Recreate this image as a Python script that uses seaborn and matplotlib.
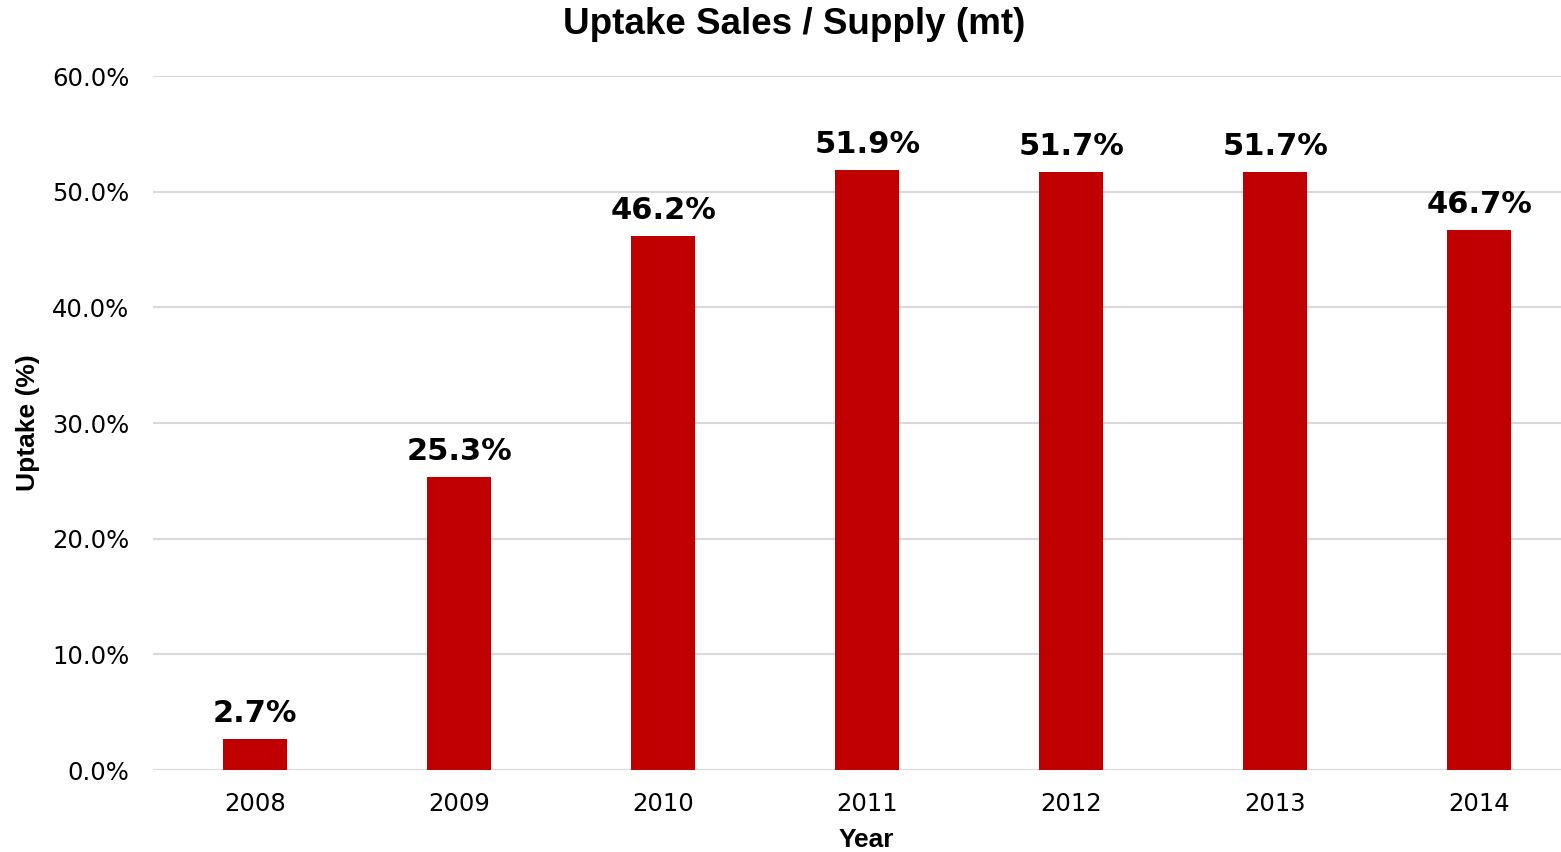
import matplotlib
matplotlib.use("Agg")
import matplotlib.pyplot as plt
import seaborn as sns
import pandas as pd
from matplotlib.ticker import PercentFormatter

years = ["2008", "2009", "2010", "2011", "2012", "2013", "2014"]
uptake = [2.7, 25.3, 46.2, 51.9, 51.7, 51.7, 46.7]

df = pd.DataFrame({"Year": years, "Uptake": uptake})

sns.set_theme(style="white")
plt.rcParams["font.family"] = ["DejaVu Sans"]
plt.rcParams["text.color"] = "black"

fig = plt.figure(figsize=(15.61, 8.52), dpi=100)
ax = fig.add_axes([153 / 1561, 1 - 770 / 852, 1 - 153 / 1561, (770 - 76) / 852])

sns.barplot(data=df, x="Year", y="Uptake", color="#C00000", width=0.314,
            saturation=1, linewidth=0, ax=ax, zorder=3)

ax.set_ylim(0, 60)
ax.set_xlim(-0.5, 6.40)
ax.set_yticks([0, 10, 20, 30, 40, 50, 60])
ax.yaxis.set_major_formatter(PercentFormatter(decimals=1))
ax.grid(axis="y", color="#D9D9D9", linewidth=1.5, zorder=0)
ax.grid(axis="x", visible=False)
for s in ax.spines.values():
    s.set_visible(False)
ax.tick_params(axis="both", length=0, labelsize=17.5, colors="black")
ax.tick_params(axis="y", pad=17)
ax.tick_params(axis="x", pad=16)

ax.bar_label(ax.containers[0], labels=[f"{v:.1f}%" for v in uptake],
             padding=8, fontsize=22, fontweight="bold", color="black")

ax.set_xlabel("")
ax.set_ylabel("")
fig.text(866 / 1561, 1 - 840 / 852, "Year", ha="center", va="center",
         fontsize=19, fontweight="bold", family="Liberation Sans", color="black")
fig.text(28 / 1561, 1 - 423 / 852, "Uptake (%)", ha="center", va="center",
         rotation=90, fontsize=19, fontweight="bold", family="Liberation Sans",
         color="black")
fig.text(794 / 1561, 1 - 25 / 852, "Uptake Sales / Supply (mt)", ha="center",
         va="center", fontsize=26.5, fontweight="bold", family="Liberation Sans",
         color="black")

fig.savefig("out.png", dpi=100)
